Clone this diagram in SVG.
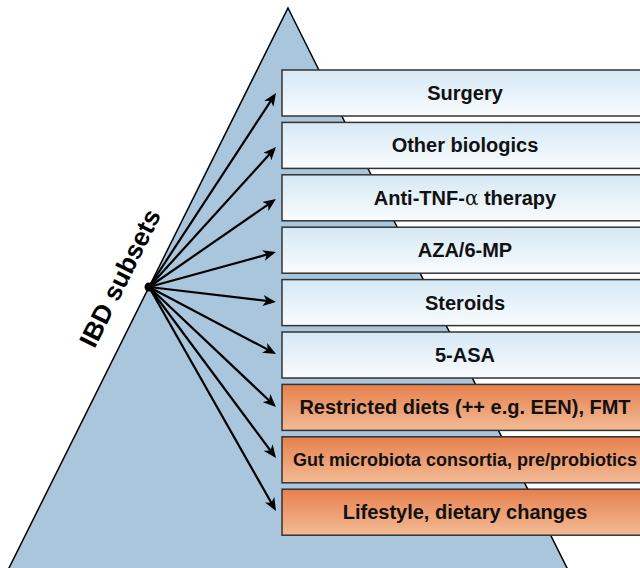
<svg xmlns="http://www.w3.org/2000/svg" width="640" height="568" viewBox="0 0 640 568">
  <defs>
    <linearGradient id="gBlue" x1="0" y1="0" x2="0" y2="1">
      <stop offset="0" stop-color="#d5e8f5"/>
      <stop offset="1" stop-color="#f9fcfe"/>
    </linearGradient>
    <linearGradient id="gOrange" x1="0" y1="0" x2="0" y2="1">
      <stop offset="0" stop-color="#e6804c"/>
      <stop offset="1" stop-color="#f3bb96"/>
    </linearGradient>
    <marker id="arrow" viewBox="0 0 13 11" refX="9" refY="5.5" markerWidth="13" markerHeight="11" markerUnits="userSpaceOnUse" orient="auto">
      <path d="M0,0 L13,5.5 L0,11 L3.5,5.5 z" fill="#000"/>
    </marker>
    <style>
      .box { stroke: #333; stroke-width: 1.5; }
      .blue { fill: url(#gBlue); }
      .orange { fill: url(#gOrange); }
      .lbl { font-family: "Liberation Sans", Arial, sans-serif; font-weight: bold; font-size: 20px; fill: #111; text-anchor: middle; }
      .small { font-size: 18px; }
      .conn line { stroke: #000; stroke-width: 2.2; marker-end: url(#arrow); }
    </style>
  </defs>
  <rect width="640" height="568" fill="#fff"/>
  <g id="pyramid">
    <polygon points="288,8 568,570 8,570" fill="#a9c6dd" stroke="#000" stroke-width="1.5"/>
    <text transform="translate(128,282) rotate(-63.5)" font-family="Liberation Sans, Arial, sans-serif" font-weight="bold" font-size="26" text-anchor="middle" fill="#000">IBD subsets</text>
  </g>
  <g id="n1"><rect class="box blue" x="282" y="70" width="370" height="46"/><text class="lbl" x="465" y="100">Surgery</text></g>
  <g id="n2"><rect class="box blue" x="282" y="122.4" width="370" height="46"/><text class="lbl" x="465" y="152.4">Other biologics</text></g>
  <g id="n3"><rect class="box blue" x="282" y="174.8" width="370" height="46"/><text class="lbl" x="465" y="204.8">Anti-TNF-<tspan font-family="DejaVu Serif, serif" font-weight="normal">α</tspan> therapy</text></g>
  <g id="n4"><rect class="box blue" x="282" y="227.2" width="370" height="46"/><text class="lbl" x="465" y="257.2">AZA/6-MP</text></g>
  <g id="n5"><rect class="box blue" x="282" y="279.6" width="370" height="46"/><text class="lbl" x="465" y="309.6">Steroids</text></g>
  <g id="n6"><rect class="box blue" x="282" y="332" width="370" height="46"/><text class="lbl" x="465" y="362">5-ASA</text></g>
  <g id="n7"><rect class="box orange" x="282" y="384.4" width="370" height="46"/><text class="lbl" x="465" y="414.4">Restricted diets (++ e.g. EEN), FMT</text></g>
  <g id="n8"><rect class="box orange" x="282" y="436.8" width="370" height="46"/><text class="lbl small" x="465" y="466.3">Gut microbiota consortia, pre/probiotics</text></g>
  <g id="n9"><rect class="box orange" x="282" y="489.2" width="370" height="46"/><text class="lbl" x="465" y="519.2">Lifestyle, dietary changes</text></g>
  <g id="connectors" class="conn">
    <line x1="149" y1="287" x2="273.8" y2="96.3"/>
    <line x1="149" y1="287" x2="273.3" y2="150"/>
    <line x1="149" y1="287" x2="272.7" y2="201.3"/>
    <line x1="149" y1="287" x2="272.1" y2="253.1"/>
    <line x1="149" y1="287" x2="272" y2="301.5"/>
    <line x1="149" y1="287" x2="272.5" y2="352.1"/>
    <line x1="149" y1="287" x2="273.1" y2="404.3"/>
    <line x1="149" y1="287" x2="273.6" y2="454.8"/>
    <line x1="149" y1="287" x2="274" y2="507.5"/>
    <circle cx="149" cy="287" r="4.5" fill="#000"/>
  </g>
</svg>
